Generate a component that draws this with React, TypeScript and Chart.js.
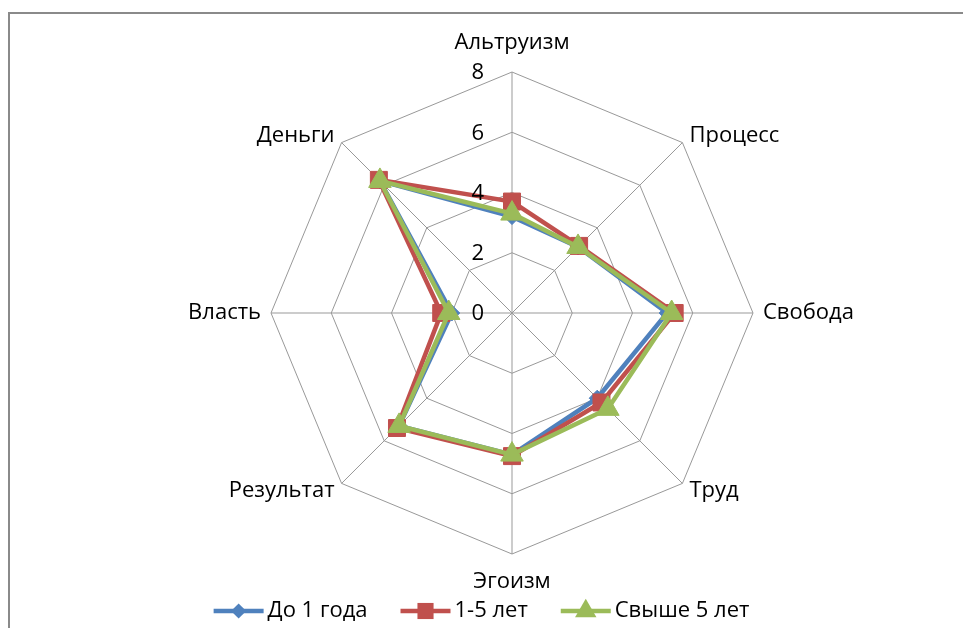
import React, { useEffect, useRef } from "react";
import { Chart, registerables } from "chart.js";

Chart.register(...registerables);

const categories = ["Альтруизм", "Процесс", "Свобода", "Труд", "Эгоизм", "Результат", "Власть", "Деньги"];
const seriesNames = ["До 1 года", "1-5 лет", "Свыше 5 лет"];
const upTo1Year = [3.2, 3.1, 5.15, 4.0, 4.7, 5.3, 2.0, 6.2];
const oneToFiveYears = [3.7, 3.15, 5.4, 4.2, 4.75, 5.4, 2.35, 6.25];
const over5Years = [3.3, 3.1, 5.3, 4.5, 4.7, 5.3, 2.1, 6.2];
const tickValues = [0, 2, 4, 6, 8];

const COLORS = ["#4F81BD", "#C0504D", "#9BBB59"];
const STYLES = ["rectRot", "rect", "triangle"];
const RADII = [8, 12, 13];
const FONT_SIZE = 22;
const FONT = `${FONT_SIZE}px "Open Sans", Roboto, sans-serif`;

function drawMarker(ctx: CanvasRenderingContext2D, style: string, x: number, y: number, r: number, color: string) {
  ctx.save();
  ctx.fillStyle = color;
  ctx.beginPath();
  if (style === "rectRot") {
    ctx.moveTo(x, y - r);
    ctx.lineTo(x + r, y);
    ctx.lineTo(x, y + r);
    ctx.lineTo(x - r, y);
  } else if (style === "rect") {
    const s = r / Math.SQRT2;
    ctx.rect(x - s, y - s, 2 * s, 2 * s);
  } else {
    const h = r;
    ctx.moveTo(x, y - h);
    ctx.lineTo(x + h * 0.866, y + h * 0.5);
    ctx.lineTo(x - h * 0.866, y + h * 0.5);
  }
  ctx.closePath();
  ctx.fill();
  ctx.restore();
}

const decorPlugin = {
  id: "decor",
  beforeDraw(chart: any) {
    const ctx = chart.ctx as CanvasRenderingContext2D;
    ctx.save();
    ctx.fillStyle = "#ffffff";
    ctx.fillRect(0, 0, chart.width, chart.height);
    ctx.strokeStyle = "#8a8a8a";
    ctx.lineWidth = 2;
    ctx.beginPath();
    ctx.moveTo(9, chart.height);
    ctx.lineTo(9, 13);
    ctx.lineTo(chart.width, 13);
    ctx.stroke();
    ctx.restore();
  },
  afterDraw(chart: any) {
    const ctx = chart.ctx as CanvasRenderingContext2D;
    const r = chart.scales.r;
    ctx.save();
    ctx.font = FONT;
    ctx.fillStyle = "#000000";
    // tick labels
    ctx.textAlign = "right";
    ctx.textBaseline = "middle";
    tickValues.forEach((v) => {
      const d = r.getDistanceFromCenterForValue(v);
      ctx.fillText(String(v), r.xCenter - 28, r.yCenter - d + 1);
    });
    // point labels
    categories.forEach((c, i) => {
      const p = r.getPointPosition(i, r.drawingArea + 10);
      const a = r.getIndexAngle(i);
      const sx = Math.sin(a);
      const cy = -Math.cos(a);
      let y = p.y;
      if (Math.abs(sx) < 0.01) {
        ctx.textAlign = "center";
        y += cy < 0 ? -19 : 18;
      } else {
        ctx.textAlign = sx > 0 ? "left" : "right";
      }
      ctx.fillText(c, p.x, y);
    });
    // legend
    const lineLen = 50;
    const gap = 4;
    const spacing = 33;
    ctx.textAlign = "left";
    const widths = seriesNames.map((s) => ctx.measureText(s).width);
    const total = widths.reduce((a, b) => a + b, 0) + seriesNames.length * (lineLen + gap) + spacing * (seriesNames.length - 1);
    let x = chart.width / 2 - total / 2;
    const ly = 611;
    seriesNames.forEach((s, i) => {
      ctx.strokeStyle = COLORS[i];
      ctx.lineWidth = 4.5;
      ctx.beginPath();
      ctx.moveTo(x, ly);
      ctx.lineTo(x + lineLen, ly);
      ctx.stroke();
      drawMarker(ctx, STYLES[i], x + lineLen / 2, ly, RADII[i] * 0.95, COLORS[i]);
      ctx.fillStyle = "#000000";
      ctx.fillText(s, x + lineLen + gap, ly);
      x += lineLen + gap + widths[i] + spacing;
    });
    ctx.restore();
  },
};

export default function App() {
  const ref = useRef<HTMLCanvasElement>(null);
  useEffect(() => {
    if (!ref.current) return;
    const series = [upTo1Year, oneToFiveYears, over5Years];
    const chart = new Chart(ref.current, {
      type: "radar",
      data: {
        labels: categories,
        datasets: series.map((d, i) => ({
          label: seriesNames[i],
          data: d,
          borderColor: COLORS[i],
          backgroundColor: COLORS[i],
          fill: false,
          borderWidth: 4.5,
          pointStyle: STYLES[i] as any,
          pointRadius: RADII[i],
          pointBackgroundColor: COLORS[i],
          pointBorderColor: COLORS[i],
          pointBorderWidth: 1,
          order: 3 - i,
        })),
      },
      options: {
        responsive: false,
        animation: false,
        layout: { padding: { left: 271, right: 210, top: 72, bottom: 74 } },
        plugins: { legend: { display: false }, tooltip: { enabled: false } },
        elements: { line: { tension: 0 } },
        scales: {
          r: {
            min: 0,
            max: 8,
            ticks: { stepSize: 2, display: false },
            grid: { color: "#999999", lineWidth: 1 },
            angleLines: { color: "#999999", lineWidth: 1 },
            pointLabels: { display: false },
          },
        },
      },
      plugins: [decorPlugin],
    });
    return () => chart.destroy();
  }, []);
  return (
    <div style={{ position: "absolute", left: 0, top: 0, width: 963, height: 628, background: "#fff" }}>
      <canvas ref={ref} width={963} height={628} style={{ display: "block" }} />
    </div>
  );
}
